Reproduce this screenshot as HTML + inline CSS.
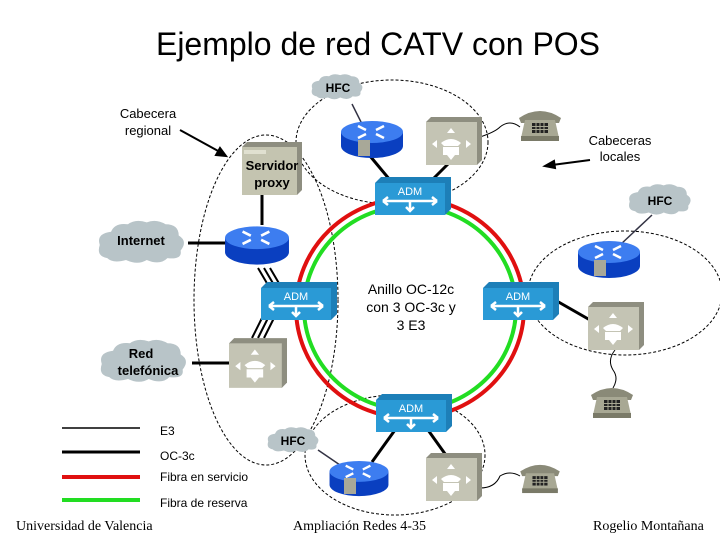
<!DOCTYPE html>
<html><head><meta charset="utf-8"><style>
html,body{margin:0;padding:0;background:#fff;}
svg{display:block;}
text{font-family:"Liberation Sans",Arial,sans-serif;}
text.serif{font-family:"Liberation Serif","Times New Roman",serif;}
</style></head><body>
<svg width="720" height="540" viewBox="0 0 720 540" xmlns="http://www.w3.org/2000/svg">
<defs>
<symbol id="router" viewBox="0 0 64 40">
  <path d="M1 12 v14 a31 12 0 0 0 62 0 v-14 z" fill="#0a3fc0"/>
  <ellipse cx="32" cy="12" rx="31" ry="11" fill="#3d7df0"/>
  <g stroke="#fff" stroke-width="2.5" fill="none">
    <path d="M18 6 l8 4 M36 14 l8 4 M44 6 l-8 4 M26 14 l-8 4"/>
  </g>
</symbol>
<symbol id="adm" viewBox="0 0 76 38">
  <path d="M0 6 l6 -6 h70 v32 l-6 6 z" fill="#1d7fb8"/>
  <rect x="0" y="6" width="70" height="32" fill="#2a9ad6"/>
  <text x="35" y="18" font-size="11" fill="#fff" text-anchor="middle">ADM</text>
  <path d="M8 24 h54 M8 24 l5 -4 M8 24 l5 4 M62 24 l-5 -4 M62 24 l-5 4 M35 24 v10 M31 30 l4 4 l4 -4" stroke="#fff" stroke-width="2.5" fill="none"/>
</symbol>
<symbol id="pbx" viewBox="0 0 56 48">
  <path d="M0 5 l5 -5 h51 v43 l-5 5 z" fill="#8e8e80"/>
  <rect x="0" y="5" width="51" height="43" fill="#c4c4b4"/>
  <path d="M25 11 l-4 5 h8 z M25 43 l-4 -5 h8 z M6 27 l5 -4 v8 z M45 27 l-5 -4 v8 z" fill="#fff"/>
  <path d="M15 26 q10 -8 20 0 l-3 3 h-14 z M17 30 h16 v8 h-16 z" fill="#fff"/>
</symbol>
<symbol id="phone" viewBox="0 0 46 34">
  <path d="M2 10 q21 -14 42 0 l-2 5 h-38 z" fill="#8a8a78"/>
  <path d="M8 12 h30 l4 18 h-38 z" fill="#a8a894"/>
  <rect x="4" y="28" width="38" height="5" fill="#7a7a68"/>
  <rect x="15" y="15" width="16" height="10" fill="#222"/>
  <path d="M15 18.5 h16 M15 21.5 h16 M19 15 v10 M23 15 v10 M27 15 v10" stroke="#a8a894" stroke-width="1"/>
</symbol>
<symbol id="cloud" viewBox="0 0 100 50">
  <path d="M12 40 q-12 -2 -8 -14 q-4 -12 12 -14 q4 -10 18 -8 q8 -6 20 -2 q10 -4 20 2 q14 0 14 12 q10 6 2 16 q2 10 -14 8 q-8 8 -22 2 q-10 6 -22 0 q-14 4 -20 -2z" fill="#b8c4c8"/>
</symbol>
</defs>

<text x="378" y="55" font-size="32" text-anchor="middle">Ejemplo de red CATV con  POS</text>

<g fill="none" stroke="#000" stroke-width="1" stroke-dasharray="3,2">
  <ellipse cx="266" cy="300" rx="72" ry="165"/>
  <ellipse cx="392" cy="142" rx="96" ry="62"/>
  <ellipse cx="625" cy="293" rx="97" ry="62"/>
  <ellipse cx="395" cy="455" rx="90" ry="60"/>
</g>

<ellipse cx="410" cy="308" rx="114" ry="110" fill="none" stroke="#e01010" stroke-width="4"/>
<ellipse cx="410" cy="308" rx="106" ry="102" fill="none" stroke="#22dd22" stroke-width="4"/>

<g stroke="#000" stroke-width="3">
  <line x1="262" y1="192" x2="262" y2="225"/>
  <line x1="188" y1="243" x2="226" y2="243"/>
  <line x1="192" y1="363" x2="230" y2="363"/>
  <line x1="370" y1="156" x2="390" y2="180"/>
  <line x1="450" y1="162" x2="432" y2="180"/>
  <line x1="555" y1="300" x2="590" y2="320"/>
  <line x1="395" y1="430" x2="372" y2="462"/>
  <line x1="428" y1="430" x2="448" y2="458"/>
  <line x1="258" y1="268" x2="268" y2="285" stroke-width="2"/>
  <line x1="264" y1="268" x2="274" y2="285" stroke-width="2"/>
  <line x1="270" y1="268" x2="280" y2="285" stroke-width="2"/>
  <line x1="252" y1="338" x2="262" y2="318" stroke-width="2"/>
  <line x1="258" y1="338" x2="268" y2="318" stroke-width="2"/>
  <line x1="264" y1="338" x2="274" y2="318" stroke-width="2"/>
</g>
<g stroke="#334" stroke-width="1.5" fill="none">
  <line x1="352" y1="104" x2="362" y2="124"/>
  <line x1="652" y1="215" x2="620" y2="245"/>
  <line x1="318" y1="450" x2="340" y2="465"/>
</g>
<g stroke="#000" stroke-width="1" fill="none">
  <path d="M480 137 q15 -5 20 -10 q10 -8 20 0"/>
  <path d="M615 350 q-8 10 -2 20 q6 8 0 18"/>
  <path d="M480 488 q15 0 20 -12 q10 -6 20 0"/>
</g>
<g stroke="#000" stroke-width="2" fill="#000">
  <line x1="180" y1="130" x2="220" y2="152"/>
  <path d="M226 156 l-10 -1 l4 -7 z"/>
  <line x1="590" y1="160" x2="552" y2="165"/>
  <path d="M545 166 l9 -5 l1 7 z"/>
</g>

<use href="#cloud" x="310" y="70" width="56" height="36"/>
<text x="338" y="92" font-size="12" font-weight="bold" text-anchor="middle">HFC</text>
<use href="#cloud" x="626" y="184" width="70" height="34"/>
<text x="660" y="205" font-size="12" font-weight="bold" text-anchor="middle">HFC</text>
<use href="#cloud" x="266" y="425" width="56" height="32"/>
<text x="293" y="445" font-size="12" font-weight="bold" text-anchor="middle">HFC</text>
<use href="#cloud" x="96" y="218" width="94" height="52"/>
<text x="141" y="245" font-size="13" font-weight="bold" text-anchor="middle">Internet</text>
<use href="#cloud" x="98" y="338" width="94" height="50"/>
<text x="141" y="358" font-size="13" font-weight="bold" text-anchor="middle">Red</text>
<text x="148" y="375" font-size="13" font-weight="bold" text-anchor="middle">telefónica</text>

<path d="M242 147 l5 -5 h55 v48 l-5 5 z" fill="#8e8e80"/>
<rect x="242" y="147" width="55" height="48" fill="#c4c4b0"/>
<rect x="244" y="150" width="22" height="4" fill="#e0e0d0"/>
<text x="272" y="170" font-size="13" font-weight="bold" text-anchor="middle">Servidor</text>
<text x="272" y="187" font-size="13" font-weight="bold" text-anchor="middle">proxy</text>

<use href="#router" x="224" y="222" width="66" height="48"/>
<use href="#router" x="340" y="120" width="64" height="40"/>
<use href="#router" x="577" y="240" width="64" height="40"/>
<use href="#router" x="326" y="460" width="66" height="38"/>
<g fill="#a8a898"><rect x="358" y="140" width="12" height="16"/><rect x="594" y="260" width="12" height="16"/><rect x="344" y="478" width="12" height="16"/></g>

<use href="#adm" x="375" y="177" width="76" height="38"/>
<use href="#adm" x="261" y="282" width="76" height="38"/>
<use href="#adm" x="483" y="282" width="76" height="38"/>
<use href="#adm" x="376" y="394" width="76" height="38"/>

<use href="#pbx" x="426" y="117" width="56" height="48"/>
<use href="#pbx" x="588" y="302" width="56" height="48"/>
<use href="#pbx" x="229" y="338" width="58" height="50"/>
<use href="#pbx" x="426" y="452" width="56" height="50"/>

<use href="#phone" x="517" y="108" width="46" height="34"/>
<use href="#phone" x="589" y="385" width="46" height="34"/>
<use href="#phone" x="517" y="462" width="46" height="32"/>

<text x="148" y="118" font-size="13" text-anchor="middle">Cabecera</text>
<text x="148" y="135" font-size="13" text-anchor="middle">regional</text>
<text x="620" y="145" font-size="13" text-anchor="middle">Cabeceras</text>
<text x="620" y="161" font-size="13" text-anchor="middle">locales</text>
<text x="411" y="294" font-size="14" text-anchor="middle">Anillo OC-12c</text>
<text x="411" y="312" font-size="14" text-anchor="middle">con 3 OC-3c y</text>
<text x="411" y="330" font-size="14" text-anchor="middle">3 E3</text>

<line x1="62" y1="428" x2="140" y2="428" stroke="#000" stroke-width="1.5"/>
<line x1="62" y1="452" x2="140" y2="452" stroke="#000" stroke-width="3"/>
<line x1="62" y1="477" x2="140" y2="477" stroke="#e01010" stroke-width="4"/>
<line x1="62" y1="500" x2="140" y2="500" stroke="#22dd22" stroke-width="4"/>
<text x="160" y="435" font-size="12">E3</text>
<text x="160" y="460" font-size="12">OC-3c</text>
<text x="160" y="481" font-size="12">Fibra en servicio</text>
<text x="160" y="507" font-size="12">Fibra de reserva</text>

<text class="serif" x="16" y="530" font-size="14">Universidad de Valencia</text>
<text class="serif" x="293" y="530" font-size="14">Ampliación Redes 4-35</text>
<text class="serif" x="593" y="530" font-size="14">Rogelio Montañana</text>
</svg>
</body></html>
